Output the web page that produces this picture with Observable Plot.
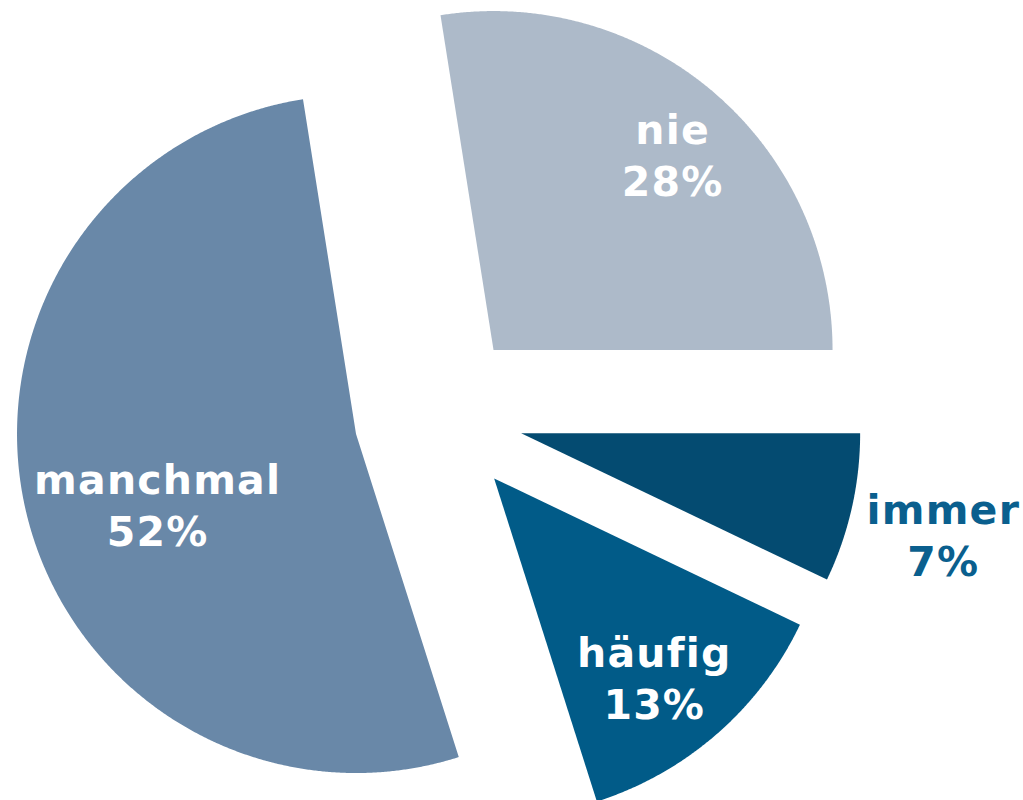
<!DOCTYPE html>
<html><head><meta charset="utf-8">
<script src="https://cdn.jsdelivr.net/npm/d3@7"></script>
<script src="https://cdn.jsdelivr.net/npm/@observablehq/plot@0.6"></script>
<style>html,body{margin:0;padding:0;background:#fff}</style>
</head><body><div id="chart"></div>
<script>
// Data (clockwise from 3 o'clock)
const categories = ["immer", "häufig", "manchmal", "nie"];
const shares = [7.1, 13.0, 52.4, 27.5];
const percentLabels = ["7%", "13%", "52%", "28%"];
const sliceColors = ["#044b71", "#015b88", "#6988a8", "#adbac9"];

// Layout
const explode = 0.25;                         // offset of every slice, in radius units
const labelRadius = [1.28, 0.75, 0.62, 0.785]; // label distance from slice apex, radius units
const labelTurn = [0.6, 2, -6, 1.8];           // small angular nudge of label, degrees
const insideLabel = [false, true, true, true];

const arcs = d3.pie().sort(null)
  .startAngle(Math.PI / 2).endAngle(Math.PI / 2 + 2 * Math.PI)(shares);

const slicePoints = [];
const labels = [];
arcs.forEach((a, i) => {
  const mid = (a.startAngle + a.endAngle) / 2;
  const ox = explode * Math.sin(mid), oy = explode * Math.cos(mid);
  slicePoints.push({cat: categories[i], x: ox, y: oy});
  const n = Math.ceil((a.endAngle - a.startAngle) / (Math.PI / 720));
  for (let k = 0; k <= n; k++) {
    const t = a.startAngle + (a.endAngle - a.startAngle) * k / n;
    slicePoints.push({cat: categories[i], x: ox + Math.sin(t), y: oy + Math.cos(t)});
  }
  const la = mid + labelTurn[i] * Math.PI / 180;
  labels.push({
    text: categories[i] + "\n" + percentLabels[i],
    inside: insideLabel[i],
    x: ox + labelRadius[i] * Math.sin(la),
    y: oy + labelRadius[i] * Math.cos(la)
  });
});

const textStyle = {
  x: "x", y: "y", text: "text",
  fontSize: 41, fontWeight: "bold", fontFamily: "DejaVu Sans, Verdana, sans-serif",
  lineHeight: 1.27, textAnchor: "middle", lineAnchor: "middle"
};

const chart = Plot.plot({
  width: 1023, height: 800, margin: 0,
  style: {background: "#fff", letterSpacing: "1.2px"},
  x: {domain: [-438 / 339, (1023 - 438) / 339], axis: null},
  y: {domain: [-(800 - 414) / 339, 414 / 339], axis: null},
  color: {domain: categories, range: sliceColors},
  marks: [
    Plot.line(slicePoints, {x: "x", y: "y", z: "cat", fill: "cat", stroke: "none", curve: "linear-closed"}),
    Plot.text(labels.filter(d => d.inside), {...textStyle, fill: "#ffffff"}),
    Plot.text(labels.filter(d => !d.inside), {...textStyle, fill: "#0a5f8e"})
  ]
});
document.getElementById("chart").appendChild(chart);
</script>
</body></html>
